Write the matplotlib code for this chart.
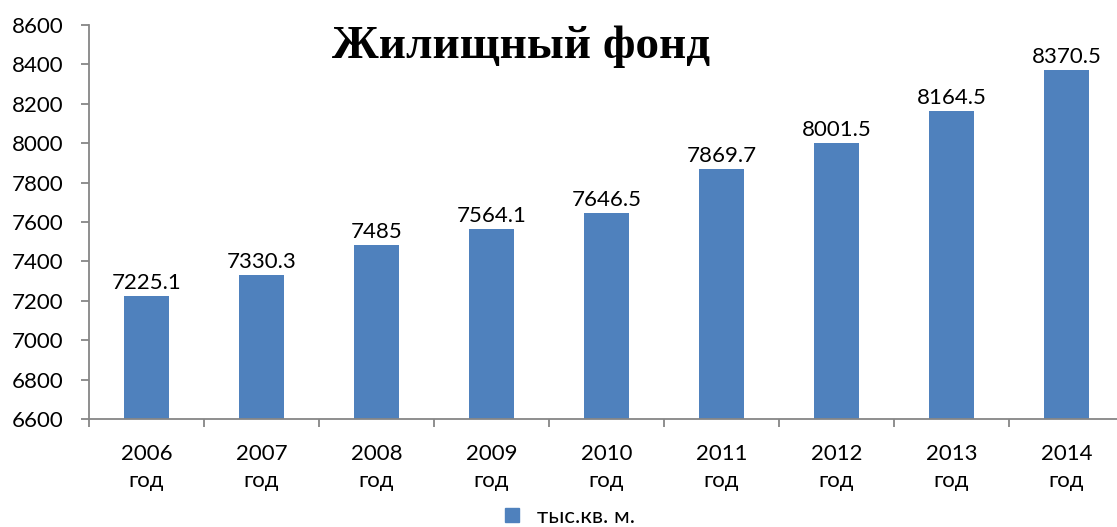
import matplotlib
matplotlib.use("Agg")
import matplotlib.pyplot as plt
from matplotlib.patches import Patch

years = ["2006", "2007", "2008", "2009", "2010", "2011", "2012", "2013", "2014"]
values = [7225.1, 7330.3, 7485, 7564.1, 7646.5, 7869.7, 8001.5, 8164.5, 8370.5]
labels = ["7225.1", "7330.3", "7485", "7564.1", "7646.5", "7869.7", "8001.5", "8164.5", "8370.5"]
yticks = list(range(6600, 8601, 200))

plt.rcParams['font.family'] = ['Lato', 'DejaVu Sans']
color = "#4F81BD"
axis_color = "#868686"

fig = plt.figure(figsize=(11.17, 5.27), dpi=100)
ax = fig.add_axes([89/1117, 1 - 419/527, 1035/1117, (419 - 25)/527])

x = list(range(len(years)))
ax.bar(x, [v - 6600 for v in values], bottom=6600, width=0.39, color=color, zorder=2)
for xi, v, lab in zip(x, values, labels):
    ax.text(xi, v + 15, lab, ha="center", va="bottom", fontsize=16, color="black")

ax.set_ylim(6600, 8600)
ax.set_xlim(-0.5, 8.5)
ax.set_yticks(yticks)
ax.set_yticklabels([str(t) for t in yticks], fontsize=16)
ax.set_xticks(x)
ax.set_xticklabels([f"{y}\nгод" for y in years], fontsize=16, linespacing=1.45)
ax.tick_params(axis="x", length=0, pad=18)
ax.set_xticks([i + 0.5 for i in range(-1, 9)], minor=True)
ax.tick_params(axis="x", which="minor", length=5.5, color=axis_color, width=1.3)
ax.tick_params(axis="y", length=5.5, color=axis_color, width=1.3, pad=13)
for s in ["top", "right"]:
    ax.spines[s].set_visible(False)
for s in ["left", "bottom"]:
    ax.spines[s].set_color(axis_color)
    ax.spines[s].set_linewidth(1.3)

fig.text(521/1117, 1 - 47/527, "Жилищный фонд", ha="center", va="center",
         fontsize=34, fontweight="bold", family=["Liberation Serif", "DejaVu Serif"])

fig.legend(handles=[Patch(color=color, label="тыс.кв. м.")], loc="center",
           bbox_to_anchor=(570/1117, 1 - 517/527), frameon=False, fontsize=16,
           handlelength=0.6, handleheight=0.6, handletextpad=0.8, borderpad=0)

fig.savefig("out.png", dpi=100)
